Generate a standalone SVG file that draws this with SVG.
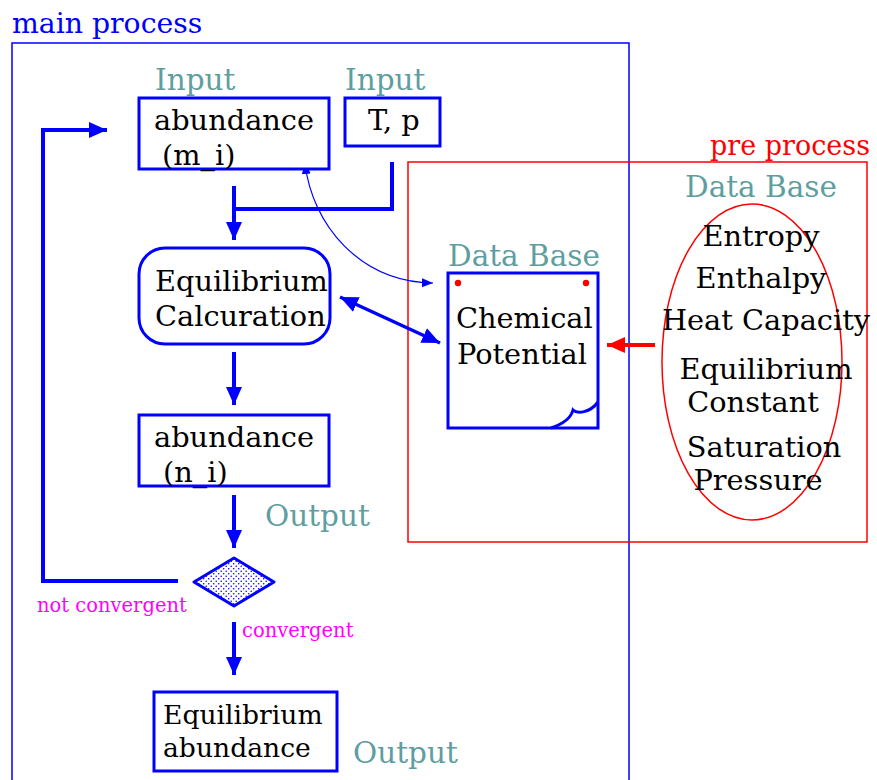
<svg xmlns="http://www.w3.org/2000/svg" width="877" height="780" viewBox="0 0 877 780">
<style>
text{font-family:"DejaVu Serif","Liberation Serif",serif;}
.blk{fill:#000;font-size:28.8px;}
.teal{fill:#5F9EA0;font-size:29.5px;}
.mag{fill:#FF00FF;font-size:19.5px;}
.node{fill:#fff;stroke:#0000FF;stroke-width:3;}
.conn{fill:none;stroke:#0000FF;stroke-width:4;}
</style>
<defs>
<marker id="ah" markerUnits="userSpaceOnUse" markerWidth="20" markerHeight="18" refX="18" refY="8" orient="auto-start-reverse">
<path d="M0,0 L18,8 L0,16 z" fill="#0000FF"/>
</marker>
<marker id="ahr" markerUnits="userSpaceOnUse" markerWidth="20" markerHeight="18" refX="18" refY="8" orient="auto">
<path d="M0,0 L18,8 L0,16 z" fill="#FF0000"/>
</marker>
<marker id="ahs" markerUnits="userSpaceOnUse" markerWidth="12" markerHeight="10" refX="11" refY="4.5" orient="auto-start-reverse">
<path d="M0,0 L11,4.5 L0,9 z" fill="#0000FF"/>
</marker>
<pattern id="dots" patternUnits="userSpaceOnUse" width="5" height="5">
<rect width="5" height="5" fill="#fff"/>
<circle cx="1.2" cy="1.2" r="0.8" fill="#0000FF"/>
<circle cx="3.7" cy="3.7" r="0.8" fill="#0000FF"/>
</pattern>
</defs>

<g id="main-process">
<path d="M12,782 V43 H629 V782" fill="none" stroke="#0000FF" stroke-width="1.5"/>
<text x="12" y="33" style="fill:#0000FF;font-size:28.3px">main process</text>
</g>

<g id="pre-process">
<rect x="408" y="162" width="459" height="380" fill="none" stroke="#FF0000" stroke-width="1.5"/>
<text x="870" y="155" text-anchor="end" style="fill:#FF0000;font-size:27px">pre process</text>
</g>

<g id="connectors">
<path class="conn" d="M392,162 V209 H234"/>
<path class="conn" d="M234,186 V240" marker-end="url(#ah)"/>
<path class="conn" d="M234,352 V405" marker-end="url(#ah)"/>
<path class="conn" d="M234,495 V548" marker-end="url(#ah)"/>
<path class="conn" d="M234,622 V675" marker-end="url(#ah)"/>
<path class="conn" d="M178,581 H43 V130 H107" marker-end="url(#ah)"/>
<path d="M340,297 L440,343" fill="none" stroke="#0000FF" stroke-width="3.5" marker-start="url(#ah)" marker-end="url(#ah)"/>
<path d="M305,163 C312,225 360,282 433,283" fill="none" stroke="#0000FF" stroke-width="1.2" marker-start="url(#ahs)" marker-end="url(#ahs)"/>
<path d="M655,345 H607" fill="none" stroke="#FF0000" stroke-width="4" marker-end="url(#ahr)"/>
</g>

<g id="input-abundance">
<text x="155" y="90" class="teal">Input</text>
<rect class="node" x="139" y="98" width="190" height="71"/>
<text x="154" y="130" class="blk">abundance</text>
<text x="162" y="165" class="blk">(m_i)</text>
</g>

<g id="input-tp">
<text x="345" y="90" class="teal">Input</text>
<rect class="node" x="345" y="98" width="95" height="48"/>
<text x="368" y="130" class="blk">T, p</text>
</g>

<g id="equilibrium-calculation">
<rect class="node" x="139" y="248" width="191" height="96" rx="26"/>
<text x="155" y="291" class="blk">Equilibrium</text>
<text x="155" y="326" class="blk">Calcuration</text>
</g>

<g id="abundance-ni">
<rect class="node" x="139" y="415" width="190" height="71"/>
<text x="154" y="447" class="blk">abundance</text>
<text x="163" y="482" class="blk">(n_i)</text>
<text x="265" y="526" class="teal">Output</text>
</g>

<g id="convergence-check">
<path d="M234,558 L274,582 L234,606 L194,582 z" fill="url(#dots)" stroke="#0000FF" stroke-width="3" stroke-linejoin="round"/>
<text x="37" y="612" class="mag">not convergent</text>
<text x="242" y="637" class="mag">convergent</text>
</g>

<g id="equilibrium-abundance">
<rect class="node" x="154" y="692" width="183" height="79"/>
<text x="163" y="724" class="blk" style="font-size:26.6px">Equilibrium</text>
<text x="163" y="757" class="blk" style="font-size:26.6px">abundance</text>
<text x="353" y="763" class="teal">Output</text>
</g>

<g id="chemical-potential">
<text x="448" y="266" class="teal">Data Base</text>
<rect class="node" x="448" y="273" width="150" height="155"/>
<path d="M551,428 C563,424 571,418 573,410 C577,414 590,413 598,402" fill="none" stroke="#0000FF" stroke-width="3"/>
<circle cx="458" cy="283" r="3.2" fill="#FF0000"/>
<circle cx="586" cy="283" r="3.2" fill="#FF0000"/>
<text x="456" y="328" class="blk">Chemical</text>
<text x="457" y="364" class="blk">Potential</text>
</g>

<g id="thermo-database">
<text x="685" y="197" class="teal">Data Base</text>
<ellipse cx="752" cy="362" rx="90" ry="158" fill="none" stroke="#FF0000" stroke-width="1.5"/>
<g class="blk" text-anchor="middle">
<text x="761" y="246">Entropy</text>
<text x="761" y="288">Enthalpy</text>
<text x="766" y="330">Heat Capacity</text>
<text x="766" y="379">Equilibrium</text>
<text x="753" y="412">Constant</text>
<text x="764" y="457">Saturation</text>
<text x="758" y="490">Pressure</text>
</g>
</g>
</svg>
